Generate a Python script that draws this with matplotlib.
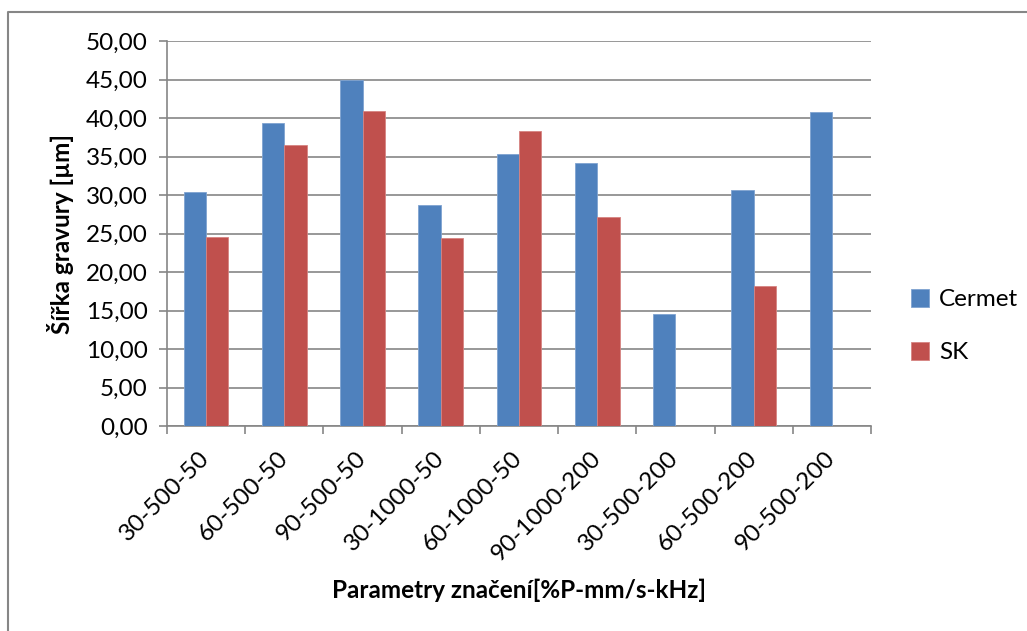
import numpy as np
import matplotlib.pyplot as plt
from matplotlib.lines import Line2D

categories = ["30-500-50", "60-500-50", "90-500-50", "30-1000-50", "60-1000-50",
              "90-1000-200", "30-500-200", "60-500-200", "90-500-200"]
cermet = [30.35, 39.4, 44.9, 28.7, 35.3, 34.2, 14.6, 30.6, 40.8]
sk = [24.6, 36.5, 40.9, 24.4, 38.3, 27.1, np.nan, 18.2, np.nan]

plt.rcParams['font.family'] = ['Lato', 'DejaVu Sans']
fs = 17.5

W, H = 1027, 631
fig = plt.figure(figsize=(W / 100, H / 100), dpi=100)
ax = fig.add_axes([167 / W, 1 - 426 / H, (871 - 167) / W, (426 - 41) / H])

x = np.arange(len(categories))
bw = 1 / 3.5
ax.bar(x - bw / 2, cermet, bw, color="#4F81BD", edgecolor="#7FA3D1", linewidth=0.6,
       label="Cermet", zorder=3)
ax.bar(x + bw / 2, sk, bw, color="#C0504D", edgecolor="#D68482", linewidth=0.6,
       label="SK", zorder=3)

ax.set_xlim(-0.5, len(categories) - 0.5)
ax.set_ylim(0, 50)
yt = np.arange(0, 50.1, 5)
ax.set_yticks(yt)
ax.set_yticklabels([f"{v:.2f}".replace(".", ",") for v in yt], fontsize=fs)
ax.yaxis.grid(True, color="#868686", linewidth=1.2, zorder=0)

ax.set_xticks(x)
ax.set_xticklabels(categories, rotation=45, ha="right", va="center",
                   rotation_mode="anchor", fontsize=fs)
ax.tick_params(axis="x", length=0, pad=21)
ax.set_xticks(np.arange(-0.5, len(categories)), minor=True)
ax.tick_params(axis="x", which="minor", length=6, color="#868686", width=1.2)
ax.tick_params(axis="y", length=6, color="#868686", width=1.2, pad=8)

for s in ["top", "right"]:
    ax.spines[s].set_visible(False)
for s in ["left", "bottom"]:
    ax.spines[s].set_color("#868686")
    ax.spines[s].set_linewidth(1.2)

fig.text(60 / W, 1 - 234 / H, "Šířka gravury [µm]", rotation=90, fontsize=fs,
         fontweight="bold", ha="center", va="center")
fig.text(519 / W, 1 - 590 / H, "Parametry značení[%P-mm/s-kHz]", fontsize=fs,
         fontweight="bold", ha="center", va="center")

leg = fig.legend(loc="center left", bbox_to_anchor=(889 / W, 1 - 326 / H),
                 frameon=False, fontsize=fs, labelspacing=1.3, handlelength=0.75,
                 handleheight=0.75, handletextpad=0.4)

# outer chart border
fig.add_artist(Line2D([8 / W, 8 / W, 1], [0, 1 - 12 / H, 1 - 12 / H],
                      transform=fig.transFigure, color="#868686", linewidth=1.5))

fig.savefig("out.png", dpi=100)
